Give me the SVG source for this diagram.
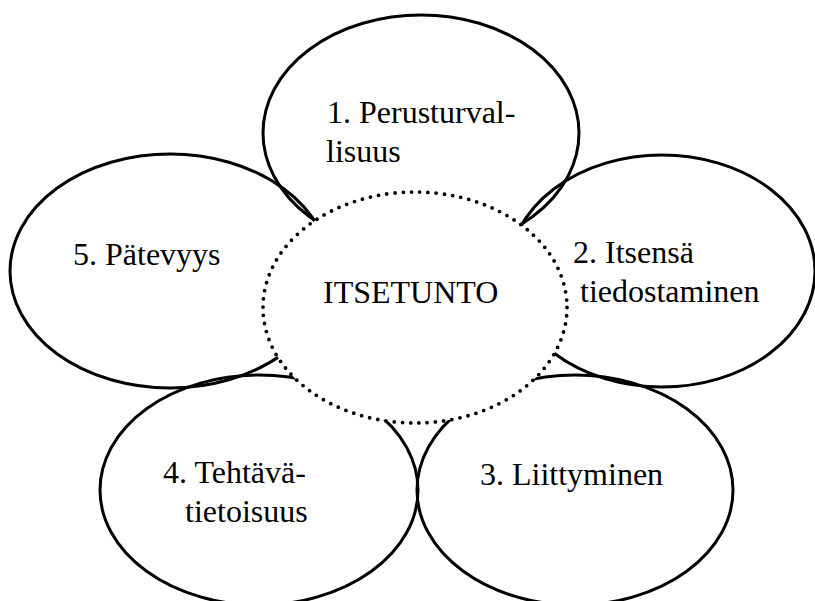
<svg xmlns="http://www.w3.org/2000/svg" width="815" height="601" viewBox="0 0 815 601">
<style>
.petal{fill:none;stroke:#000;stroke-width:3}
.core{fill:#fff;stroke:#000;stroke-width:3.8;stroke-linecap:round;stroke-dasharray:0 8.28}
.t{font-family:"Liberation Serif","Times New Roman","DejaVu Serif",serif;font-size:32px;fill:#000}
</style>
<rect width="815" height="601" fill="#fff"/>
<g id="petal1"><ellipse class="petal" cx="421" cy="133" rx="158" ry="118"/></g>
<g id="petal5"><ellipse class="petal" cx="170" cy="271" rx="160" ry="117"/></g>
<g id="petal2"><ellipse class="petal" cx="662" cy="271" rx="153" ry="116"/></g>
<g id="petal4"><ellipse class="petal" cx="259" cy="490" rx="159" ry="115"/></g>
<g id="petal3"><ellipse class="petal" cx="575" cy="490" rx="158" ry="115"/></g>
<g id="center"><ellipse class="core" cx="415" cy="307.5" rx="152" ry="115.5"/>
<text class="t" x="323" y="303">ITSETUNTO</text></g>
<g id="labels">
<text class="t" x="327" y="123">1. Perusturval-</text>
<text class="t" x="326" y="162">lisuus</text>
<text class="t" x="573" y="263">2. Itsensä</text>
<text class="t" x="580" y="302">tiedostaminen</text>
<text class="t" x="480" y="485">3. Liittyminen</text>
<text class="t" x="163" y="483">4. Tehtävä-</text>
<text class="t" x="185" y="522">tietoisuus</text>
<text class="t" x="73" y="265">5. Pätevyys</text>
</g>
<g id="connectors"/>
</svg>
